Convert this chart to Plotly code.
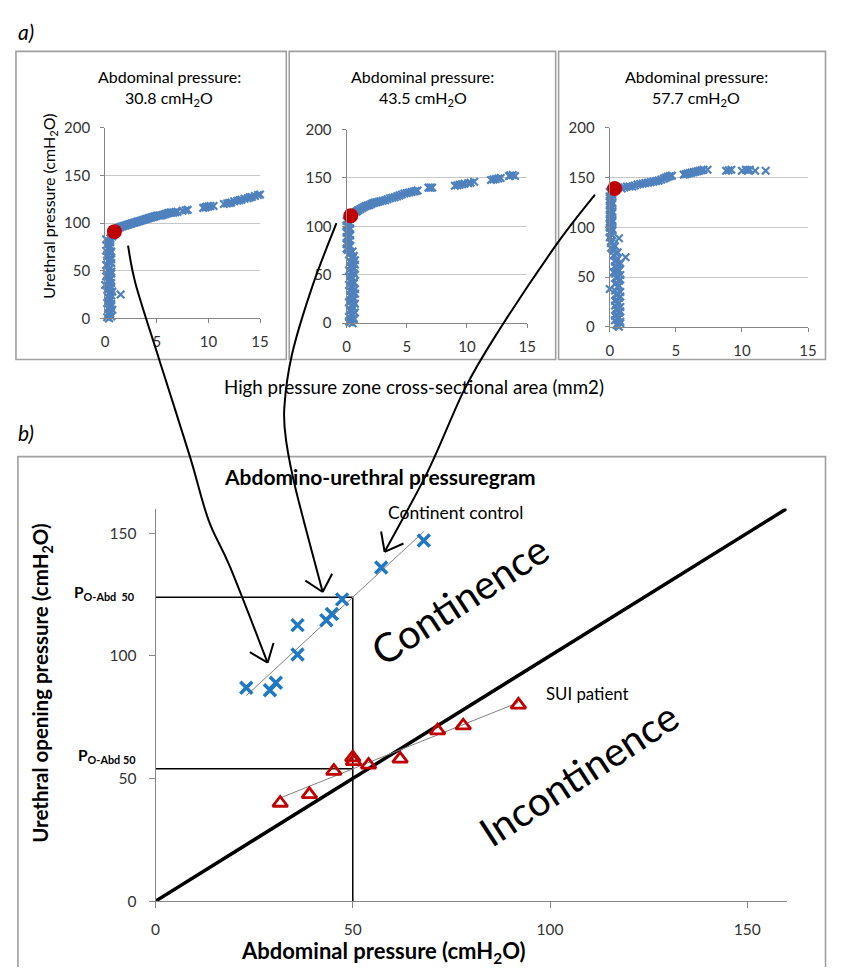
import numpy as np
import plotly.graph_objects as go

# page is 843x975; the default body margin (8px) is accounted for below
PAGE_W, PAGE_H, OFF = 843, 975, 8
W, H = PAGE_W - 2 * OFF, PAGE_H - 2 * OFF

# ---------------- Panel a data (HPZ area mm2 vs urethral pressure cmH2O) ----------------
a1_area = [0.4, 0.6, 0.3, 0.5, 0.7, 0.4, 0.6, 0.3, 0.5, 0.6, 1.5, 0.4, 0.2, 0.6, 0.0, 0.3, 0.5, 0.1,
           0.6, 0.3, 0.5, 0.1, 0.4, 0.6, 0.2, 0.5, 0.1, 0.4, 0.2, 0.5, 0.1, 0.7,
           0.2, 0.5, 0.3, 0.6, 0.2, 0.5, 0.3, 0.7, 0.4, 0.2, 0.6, 0.3, 0.5, 0.2, 0.6, 0.4, 0.2, 0.6,
           0.3, 0.5, 0.2, 0.6, 0.3, 0.5, 0.3, 0.2, 0.5, 0.6,
           0.9, 1.2, 1.5, 1.8, 2.1, 2.4, 2.7, 3.0, 3.3, 3.6, 3.9, 4.2, 4.5, 4.8, 5.1, 5.4, 5.7, 6.0,
           6.3, 6.6, 7.0, 7.5, 8.0, 9.5, 9.8, 10.2, 10.5, 11.5, 12.0, 12.5, 13.0, 13.5, 14.0, 14.5, 15.0,
           1.0, 1.35, 1.65, 1.95, 2.25, 2.55, 2.85, 3.15, 3.45, 3.75, 4.05, 4.35, 4.65, 4.95, 5.25, 5.55,
           5.85, 6.15, 6.45, 6.8, 7.8, 9.7, 10.0, 11.8, 12.2, 12.8, 13.2, 13.8, 14.2, 14.8]
a1_pres = [0, 2, 4, 7, 9, 12, 15, 18, 21, 24, 25, 27, 30, 33, 35, 38, 41, 44,
           47, 50, 53, 56, 59, 62, 65, 68, 71, 74, 77, 80, 83, 86,
           1, 5, 10, 13, 16, 19, 22, 28, 31, 34, 37, 40, 43, 46, 49, 52, 55, 58,
           61, 64, 67, 70, 73, 76, 79, 82, 84, 89,
           92, 94, 96, 97, 98, 99, 100, 101, 102, 103, 104, 105, 106, 107, 108, 108, 109, 110,
           111, 111, 112, 113, 114, 116, 117, 118, 118, 120, 121, 123, 124, 125.5, 127, 128.5, 130,
           93, 95, 96.5, 97.5, 98.5, 99.5, 100.5, 101.5, 102.5, 103.5, 104.5, 105.5, 106.5, 107.5, 108, 108.5,
           109.5, 110.5, 111, 111.5, 113.5, 116.5, 117.5, 120.5, 121.5, 123.5, 124.5, 126, 127.5, 129.5]
a1_open_area = [0.9]
a1_open_pres = [91]

a2_area = [0.5, 0.2, 0.6, 0.4, 0.7, 0.3, 0.5, 0.7, 0.4, 0.6, 0.3, 0.5, 0.7, 0.4, 0.6, 0.3, 0.5,
           0.7, 0.4, 0.6, 0.3, 0.5, 0.7, 0.4, 0.2, 0.5, 0.0, 0.3, 0.1, 0.3, 0.0, 0.2, 0.1, 0.3,
           0.0, 0.2, 0.1,
           0.3, 0.6, 0.2, 0.5, 0.3, 0.6, 0.4, 0.2, 0.6, 0.4, 0.7, 0.3, 0.5, 0.2, 0.6, 0.4, 0.3, 0.6,
           0.2, 0.5, 0.7, 0.3, 0.5, 0.6, 0.3, 0.1, 0.2, 0.0, 0.2, 0.1, 0.3, 0.0, 0.2, 0.1, 0.3, 0.0, 0.2,
           0.8, 1.0, 1.3, 1.6, 1.9, 2.2, 2.5, 2.8, 3.2, 3.6, 4.0, 4.4, 4.8, 5.2, 5.6, 5.9, 6.8, 7.1,
           9.0, 9.4, 9.8, 10.3, 10.6, 12.0, 12.4, 12.8, 13.5, 13.8, 14.0,
           0.9, 1.15, 1.45, 1.75, 2.05, 2.35, 2.65, 3.0, 3.4, 3.8, 4.2, 4.6, 5.0, 5.4, 5.75, 6.95,
           9.2, 9.6, 10.1, 12.2, 12.6, 13.6]
a2_pres = [0, 2, 5, 8, 11, 14, 17, 20, 23, 26, 29, 32, 35, 38, 41, 44, 47,
           50, 53, 56, 59, 62, 65, 68, 71, 74, 77, 80, 83, 86, 89, 92, 95, 98,
           101, 104, 107,
           1, 3.5, 6.5, 9.5, 12.5, 15.5, 18.5, 21.5, 24.5, 27.5, 30.5, 33.5, 36.5, 39.5, 42.5, 45.5, 48.5, 51.5,
           54.5, 57.5, 60.5, 63.5, 66.5, 69.5, 72.5, 75.5, 78.5, 81.5, 84.5, 87.5, 90.5, 93.5, 96.5, 99.5,
           102.5, 105.5, 108.5,
           115, 117, 119, 121, 122, 124, 125, 126, 127, 129, 130, 132, 134, 135, 136, 137, 140, 140,
           142, 143, 144, 145, 146, 148, 149, 150, 152, 153, 152,
           116, 118, 120, 121.5, 123, 124.5, 125.5, 126.5, 128, 129.5, 131, 133, 134.5, 135.5, 136.5, 140,
           142.5, 143.5, 144.5, 148.5, 149.5, 152.5]
a2_open_area = [0.35]
a2_open_pres = [111]

a3_area = [0.7, 0.5, 0.8, 0.6, 0.4, 0.7, 0.5, 0.8, 0.6, 0.4, 0.7, 0.5, 0.8, 0.0, 0.6, 0.4, 0.7,
           0.5, 0.8, 0.3, 0.6, 0.4, 0.8, 0.5, 1.2, 0.3, 0.6, 0.2, 0.4, 0.1, 0.7, 0.2, 0.0, 0.2,
           0.1, 0.0, 0.2, 0.1, 0.0, 0.2, 0.1, 0.0, 0.2, 0.1, 0.0, 0.2, 0.1,
           0.6, 0.8, 0.4, 0.7, 0.5, 0.8, 0.6, 0.4, 0.7, 0.5, 0.8, 0.6, 0.4, 0.7, 0.5, 0.8, 0.6, 0.4,
           0.7, 0.5, 0.7, 0.4, 0.6, 0.5, 0.3, 0.1, 0.3, 0.1, 0.0, 0.1, 0.2, 0.0, 0.1, 0.2, 0.0, 0.1,
           0.2, 0.0, 0.1, 0.2, 0.0, 0.1, 0.2, 0.0,
           0.9, 1.3, 1.7, 2.1, 2.5, 2.9, 3.3, 3.7, 4.1, 4.4, 4.7, 5.6, 5.9, 6.2, 6.5, 6.8, 7.1, 7.4,
           8.8, 9.2, 10.0, 10.3, 10.6, 11.0, 11.8,
           1.1, 1.5, 1.9, 2.3, 2.7, 3.1, 3.5, 3.9, 4.25, 4.55, 5.75, 6.05, 6.35, 6.65, 6.95, 9.0, 10.45]
a3_pres = [0, 2, 5, 8, 11, 14, 17, 20, 23, 26, 29, 32, 35, 38, 40, 43, 46,
           49, 52, 55, 58, 61, 64, 67, 70, 72, 75, 78, 81, 84, 89, 92, 95, 98,
           101, 104, 107, 110, 113, 116, 119, 122, 125, 128, 131, 134, 137,
           1, 3.5, 6.5, 9.5, 12.5, 15.5, 18.5, 21.5, 24.5, 27.5, 30.5, 33.5, 36.5, 41.5, 44.5, 47.5, 50.5, 53.5,
           56.5, 59.5, 62.5, 65.5, 68.5, 73.5, 76.5, 79.5, 82.5, 86, 90, 93.5, 96.5, 99.5, 102.5, 105.5, 108.5,
           111.5, 114.5, 117.5, 120.5, 123.5, 126.5, 129.5, 132.5, 135.5,
           139, 141, 141, 143, 144, 145, 146, 147, 149, 151, 152, 153, 154, 155, 156, 157, 158, 158,
           157, 158, 157, 158, 158, 157, 157,
           140, 141, 142, 143.5, 144.5, 145.5, 146.5, 148, 150, 151.5, 153.5, 154.5, 155.5, 156.5, 157.5,
           157.5, 157.5]
a3_open_area = [0.37]
a3_open_pres = [139]

abd_pressures = ["30.8", "43.5", "57.7"]

# ---------------- Panel b data ----------------
cont_abd = [23, 29, 30.5, 36, 36, 43.3, 44.7, 47.3, 57.2, 68]
cont_ure = [87, 86, 89, 100.5, 112.5, 114.5, 117, 123, 136, 147]
sui_abd = [31.6, 39, 45.2, 50, 50.2, 54, 62, 71.5, 78, 92]
sui_ure = [40, 43.5, 53, 58.5, 57, 55.5, 58, 69.5, 71.5, 80]
ref_abd = 50
identity_line = [0, 160]
b_ticks = [0, 50, 100, 150]

# ---------------- helpers (page pixel -> paper fraction) ----------------
def fx(x):
    return (x - OFF) / W


def fy(y):
    return 1 - (y - OFF) / H


BLUE_A = "#4f81bd"
RED = "#c00000"
BLUE_B = "#1f78c1"
AXC = "#868686"
FONT = "Lato"

fig = go.Figure()

panels = [
    (a1_area, a1_pres, a1_open_area, a1_open_pres, "x", "y"),
    (a2_area, a2_pres, a2_open_area, a2_open_pres, "x2", "y2"),
    (a3_area, a3_pres, a3_open_area, a3_open_pres, "x3", "y3"),
]
for ax_, ay_, ox, oy, xa, ya in panels:
    fig.add_trace(go.Scatter(x=ax_, y=ay_, mode="markers", xaxis=xa, yaxis=ya, cliponaxis=False,
                             marker=dict(symbol="x-thin", size=7.5, color=BLUE_A,
                                         line=dict(width=2.2, color=BLUE_A)),
                             hoverinfo="skip", showlegend=False))
    fig.add_trace(go.Scatter(x=ox, y=oy, mode="markers", xaxis=xa, yaxis=ya, cliponaxis=False,
                             marker=dict(symbol="circle", size=15, color=RED),
                             hoverinfo="skip", showlegend=False))

# Panel b
cfit = np.polyfit(cont_abd, cont_ure, 1)
sfit = np.polyfit(sui_abd, sui_ure, 1)
c_line_x = [min(cont_abd), max(cont_abd)]
s_line_x = [min(sui_abd), max(sui_abd)]
c_at_ref = float(np.polyval(cfit, ref_abd))
s_at_ref = float(np.polyval(sfit, ref_abd))

fig.add_trace(go.Scatter(x=identity_line, y=identity_line, mode="lines", xaxis="x4", yaxis="y4",
                         line=dict(color="black", width=3.5), hoverinfo="skip", showlegend=False))
fig.add_trace(go.Scatter(x=[0, ref_abd], y=[c_at_ref, c_at_ref], mode="lines", xaxis="x4", yaxis="y4",
                         line=dict(color="black", width=1.5), hoverinfo="skip", showlegend=False))
fig.add_trace(go.Scatter(x=[0, ref_abd], y=[s_at_ref, s_at_ref], mode="lines", xaxis="x4", yaxis="y4",
                         line=dict(color="black", width=1.5), hoverinfo="skip", showlegend=False))
fig.add_trace(go.Scatter(x=[ref_abd, ref_abd], y=[0, c_at_ref], mode="lines", xaxis="x4", yaxis="y4",
                         line=dict(color="black", width=1.5), hoverinfo="skip", showlegend=False))
fig.add_trace(go.Scatter(x=c_line_x, y=list(np.polyval(cfit, c_line_x)), mode="lines", xaxis="x4",
                         yaxis="y4", line=dict(color="#808080", width=1), hoverinfo="skip", showlegend=False))
fig.add_trace(go.Scatter(x=s_line_x, y=list(np.polyval(sfit, s_line_x)), mode="lines", xaxis="x4",
                         yaxis="y4", line=dict(color="#808080", width=1), hoverinfo="skip", showlegend=False))
fig.add_trace(go.Scatter(x=cont_abd, y=cont_ure, mode="markers", xaxis="x4", yaxis="y4", cliponaxis=False,
                         marker=dict(symbol="x-thin", size=12, color=BLUE_B, line=dict(width=3.5, color=BLUE_B)),
                         hoverinfo="skip", showlegend=False))
fig.add_trace(go.Scatter(x=sui_abd, y=sui_ure, mode="markers", xaxis="x4", yaxis="y4", cliponaxis=False,
                         marker=dict(symbol="triangle-up-open", size=13, color=RED, line=dict(width=2.8, color=RED)),
                         hoverinfo="skip", showlegend=False))

# ---------------- axes ----------------
def top_x(dom, anchor):
    return dict(domain=dom, anchor=anchor, range=[0, 15], tickvals=[0, 5, 10, 15], showline=True,
                linecolor=AXC, linewidth=1, ticks="outside", ticklen=4, tickcolor=AXC, showgrid=False,
                zeroline=False, ticklabelstandoff=6, tickfont=dict(family=FONT, size=15, color="#333"))


def top_y(dom, anchor):
    return dict(domain=dom, anchor=anchor, range=[0, 200], tickvals=[0, 50, 100, 150, 200], showline=True,
                linecolor=AXC, linewidth=1, ticks="outside", ticklen=4, tickcolor=AXC, showgrid=True,
                gridcolor="#c8c8c8", gridwidth=1, zeroline=False, ticklabelstandoff=7,
                tickfont=dict(family=FONT, size=15, color="#333"))


layout = dict(
    width=W, height=H, margin=dict(l=0, r=0, t=0, b=0), paper_bgcolor="white", plot_bgcolor="white",
    showlegend=False, hovermode=False,
    xaxis=top_x([fx(101.7), fx(259.3)], "y"), yaxis=top_y([fy(314), fy(120)], "x"),
    xaxis2=top_x([fx(347.3), fx(531)], "y2"), yaxis2=top_y([fy(319), fy(121.7)], "x2"),
    xaxis3=top_x([fx(615), fx(816.7)], "y3"), yaxis3=top_y([fy(322.7), fy(120)], "x3"),
    xaxis4=dict(domain=[fx(153), fx(795)], anchor="y4", range=[0, 160], tickvals=b_ticks, showline=True,
                linecolor=AXC, linewidth=1, ticks="outside", ticklen=6, tickcolor=AXC, showgrid=False,
                zeroline=False, ticklabelstandoff=8, tickfont=dict(family=FONT, size=15.5, color="#333")),
    yaxis4=dict(domain=[fy(908), fy(508)], anchor="x4", range=[0, 160], tickvals=b_ticks, showline=True,
                linecolor=AXC, linewidth=1, ticks="outside", ticklen=6, tickcolor=AXC, showgrid=False,
                zeroline=False, ticklabelstandoff=9, tickfont=dict(family=FONT, size=15.5, color="#333")),
)
fig.update_layout(**layout)

# ---------------- frames ----------------
frames = [(11, 42, 286, 356), (289, 42, 560, 356), (563, 42, 834.5, 356), (13, 455, 834.5, 990)]
for x0, y0, x1, y1 in frames:
    fig.add_shape(type="rect", xref="paper", yref="paper", x0=fx(x0), x1=fx(x1), y0=fy(y1), y1=fy(y0),
                  line=dict(color="#a0a0a0", width=1.6), layer="below")

# ---------------- annotations ----------------
def ann(text, x, y, size=15, color="black", angle=0, family=FONT, xanchor="center", yanchor="middle"):
    fig.add_annotation(text=text, x=fx(x), y=fy(y), xref="paper", yref="paper", showarrow=False,
                       textangle=angle, xanchor=xanchor, yanchor=yanchor,
                       font=dict(family=family, size=size, color=color))


ann("<i>a)</i>", 11, 22, size=21, xanchor="left")
ann("<i>b)</i>", 11, 430, size=21, xanchor="left")
for cx, val in zip([167, 425, 703], abd_pressures):
    ann("Abdominal pressure:", cx, 68, size=16)
    ann(val + " cmH<sub>2</sub>O", cx, 90, size=16)
ann("Urethral pressure (cmH<sub>2</sub>O)", 45, 200, size=16, angle=-90)
ann("High pressure zone cross-sectional area (mm2)", 416, 384, size=18.7)
ann("<b>Abdomino-urethral pressuregram</b>", 381, 475, size=21)
ann("Continent control", 458, 512, size=17.5)
ann("SUI patient", 592, 696, size=16.8)
ann("Continence", 462, 601, size=40, angle=-33)
ann("Incontinence", 583, 778, size=40, angle=-33)
ann("<b>P<sub>O-Abd  50</sub></b>", 68, 594, size=15.5, xanchor="left")
ann("<b>P<sub>O-Abd 50</sub></b>", 72, 760, size=15.5, xanchor="left")
ann("<b>Urethral opening pressure (cmH<sub>2</sub>O)</b>", 37, 686, size=20.5, angle=-90)
ann("<b>Abdominal pressure (cmH<sub>2</sub>O)</b>", 385, 960, size=22)

# ---------------- curved arrows ----------------
def to_paper(p):
    return f"{fx(p[0]):.5f},{fy(p[1]):.5f}"


def arrow(points, head_len=21, half_angle=34):
    pts = [np.array(p, dtype=float) for p in points]
    ext = [pts[0]] + pts + [pts[-1]]
    path = "M " + to_paper(pts[0])
    for i in range(1, len(ext) - 2):
        p0, p1, p2, p3 = ext[i - 1], ext[i], ext[i + 1], ext[i + 2]
        c1 = p1 + (p2 - p0) / 6
        c2 = p2 - (p3 - p1) / 6
        path += " C " + to_paper(c1) + " " + to_paper(c2) + " " + to_paper(p2)
    fig.add_shape(type="path", path=path, xref="paper", yref="paper", line=dict(color="black", width=2))
    tip = pts[-1]
    back = pts[-2] - tip
    back = back / np.linalg.norm(back)
    for sgn in (-1, 1):
        a = np.radians(half_angle) * sgn
        rot = np.array([[np.cos(a), -np.sin(a)], [np.sin(a), np.cos(a)]])
        end = tip + rot @ back * head_len
        fig.add_shape(type="path", path="M " + to_paper(tip) + " L " + to_paper(end), xref="paper",
                      yref="paper", line=dict(color="black", width=2))


arrow([(125, 240), (133, 280), (157, 357), (188, 455), (207, 520), (229, 568), (267, 665)], half_angle=38)
arrow([(337, 217), (313, 280), (292, 350), (284, 405), (286, 440), (296, 490), (323, 593)], half_angle=42)
arrow([(600, 188), (560, 240), (500, 330), (467, 387), (430, 470), (386, 552)], half_angle=38)

fig.write_html("out.html", config={"displayModeBar": False})
